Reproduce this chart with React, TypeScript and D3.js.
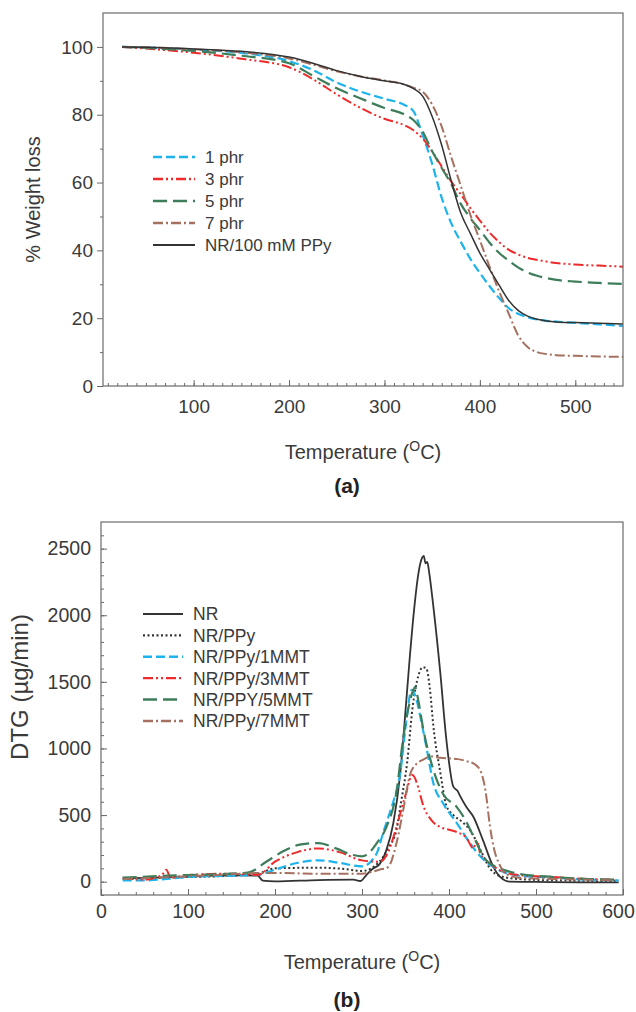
import { useEffect, useRef } from "react";
import * as d3 from "d3";

// ---------- (a) TGA data: % weight vs temperature ----------
const TGA_TEMPS = [25, 50, 100, 150, 200, 225, 250, 275, 300, 320, 330, 340, 350, 360, 370, 380, 390, 400, 410, 420, 430, 440, 450, 460, 470, 480, 500, 525, 550];
const TGA_1PHR = [100, 99.8, 99.2, 98.2, 95.8, 93.2, 89.5, 86.8, 84.7, 83, 81.2, 74, 65.5, 55.5, 48, 42.5, 37.5, 33.3, 29.5, 26, 23, 21.3, 20.3, 19.6, 19.2, 19, 18.6, 18.2, 17.7];
const TGA_3PHR = [100, 99.5, 98.3, 96.5, 94, 90.5, 86, 82, 78.8, 77, 75.5, 73, 69.2, 64.7, 60.3, 56.5, 52.5, 48.8, 45.3, 42.5, 40.2, 38.8, 37.8, 37.2, 36.7, 36.3, 35.8, 35.5, 35.2];
const TGA_5PHR = [100, 99.7, 98.8, 97.4, 95.2, 91.5, 87.8, 84.8, 82, 80.2, 78.5, 75, 69.2, 64.3, 59.5, 53.7, 49.5, 46, 42.3, 39.3, 37, 35, 33.5, 32.5, 31.8, 31.3, 30.8, 30.4, 30.1];
const TGA_7PHR = [100, 99.9, 99.3, 98.4, 96.6, 94.8, 92.8, 91.3, 90.1, 89, 88, 86.8, 83, 76.5, 67.5, 59, 50.5, 43, 35.3, 28, 21.5, 15, 11.5, 10, 9.4, 9.1, 8.9, 8.7, 8.6];
const TGA_NR_PPY = [100, 99.9, 99.4, 98.7, 97, 95.2, 93, 91.3, 90, 89, 87.8, 85.5, 79.5, 71, 60.5, 51, 45, 39.2, 34.5, 29.8, 25.3, 22.3, 20.6, 19.7, 19.2, 18.9, 18.7, 18.5, 18.3];

const TGA_X_TICKS = [100, 200, 300, 400, 500];
const TGA_Y_TICKS = [0, 20, 40, 60, 80, 100];

// ---------- (b) DTG data: [temperature, µg/min] ----------
const DTG_NR = [[25, 25], [50, 28], [75, 32], [100, 38], [130, 45], [160, 48], [180, 45], [186, 8], [200, 2], [250, 12], [290, 15], [298, 5], [305, 50], [312, 95], [320, 130], [328, 237], [336, 440], [344, 815], [351, 1365], [355, 1690], [360, 2050], [365, 2320], [369, 2430], [371, 2445], [373, 2390], [375, 2400], [377, 2330], [382, 2066], [390, 1567], [397, 1064], [405, 713], [410, 680], [413, 640], [420, 560], [428, 487], [439, 312], [451, 111], [459, 34], [470, 0], [500, -2], [550, -5], [595, -5]];
const DTG_NR_PPY = [[25, 20], [100, 35], [150, 45], [180, 60], [200, 100], [250, 105], [280, 95], [300, 80], [320, 150], [330, 250], [340, 400], [345, 600], [352, 900], [358, 1300], [365, 1550], [370, 1610], [374, 1600], [378, 1450], [382, 1170], [390, 820], [397, 570], [405, 500], [415, 450], [425, 380], [436, 240], [447, 100], [460, 40], [480, 20], [520, 10], [595, 5]];
const DTG_1MMT = [[25, 10], [50, 10], [100, 35], [150, 45], [180, 50], [200, 90], [225, 140], [250, 160], [275, 140], [300, 115], [310, 150], [318, 230], [324, 360], [330, 480], [336, 600], [344, 820], [351, 1210], [357, 1440], [362, 1380], [367, 1240], [374, 1010], [382, 740], [393, 590], [409, 440], [424, 290], [436, 190], [451, 110], [460, 80], [480, 45], [520, 30], [560, 15], [595, 10]];
const DTG_3MMT = [[25, 30], [50, 15], [70, 50], [75, 90], [80, 30], [100, 50], [150, 60], [180, 50], [200, 150], [225, 220], [250, 250], [275, 220], [300, 160], [320, 150], [330, 220], [340, 420], [350, 650], [358, 800], [365, 700], [370, 580], [380, 460], [390, 410], [400, 390], [410, 370], [420, 330], [428, 250], [432, 310], [436, 210], [445, 150], [460, 80], [480, 50], [520, 35], [560, 20], [590, 15]];
const DTG_5MMT = [[25, 30], [100, 50], [150, 60], [170, 70], [190, 150], [210, 230], [230, 280], [250, 290], [270, 250], [290, 200], [300, 190], [305, 200], [317, 290], [328, 410], [340, 690], [347, 1060], [355, 1350], [361, 1460], [365, 1350], [370, 1160], [382, 840], [393, 660], [409, 560], [420, 450], [428, 340], [443, 160], [459, 100], [480, 60], [520, 35], [560, 20], [590, 15]];
const DTG_7MMT = [[25, 20], [100, 40], [150, 55], [180, 65], [200, 65], [250, 60], [300, 60], [320, 90], [330, 110], [340, 300], [348, 560], [355, 800], [362, 880], [370, 915], [380, 940], [390, 930], [400, 925], [410, 920], [420, 905], [430, 880], [437, 820], [442, 680], [447, 420], [452, 240], [458, 130], [465, 60], [480, 30], [520, 20], [560, 15], [590, 10]];

const DTG_X_TICKS = [0, 100, 200, 300, 400, 500, 600];
const DTG_Y_TICKS = [0, 500, 1000, 1500, 2000, 2500];

const CYAN = "#1db3ec";
const RED = "#ee2a2a";
const GREEN = "#3e7d5a";
const BROWN = "#a6705f";
const BLACK = "#333333";
const FRAME = "#6a6a6a";
const TEXT = "#3a3a3a";
const FONT = "'Liberation Sans', Arial, Helvetica, sans-serif";

const TGA_SERIES = [
  { name: "1 phr", values: TGA_1PHR, color: CYAN, dash: "9,4", width: 2.2 },
  { name: "3 phr", values: TGA_3PHR, color: RED, dash: "10,3,2,3,2,3", width: 2 },
  { name: "5 phr", values: TGA_5PHR, color: GREEN, dash: "14,6", width: 2.2 },
  { name: "7 phr", values: TGA_7PHR, color: BROWN, dash: "10,3,2,3", width: 2 },
  { name: "NR/100 mM PPy", values: TGA_NR_PPY, color: BLACK, dash: null, width: 1.5 },
];

const DTG_SERIES = [
  { name: "NR", values: DTG_NR, color: BLACK, dash: null, width: 1.8 },
  { name: "NR/PPy", values: DTG_NR_PPY, color: BLACK, dash: "2,2.5", width: 2 },
  { name: "NR/PPy/1MMT", values: DTG_1MMT, color: CYAN, dash: "9,4", width: 2.2 },
  { name: "NR/PPy/3MMT", values: DTG_3MMT, color: RED, dash: "10,3,2,3,2,3", width: 2 },
  { name: "NR/PPY/5MMT", values: DTG_5MMT, color: GREEN, dash: "14,6", width: 2.2 },
  { name: "NR/PPy/7MMT", values: DTG_7MMT, color: BROWN, dash: "10,3,2,3", width: 2 },
];

function styleAxis(ax, fontSize) {
  ax.select(".domain").remove();
  ax.selectAll("line").attr("stroke", FRAME).attr("stroke-width", 1);
  ax.selectAll("text")
    .attr("fill", TEXT)
    .style("font-size", fontSize + "px")
    .style("font-family", FONT);
}

function tempTitle(svg, x, y) {
  const t = svg.append("text")
    .attr("x", x).attr("y", y)
    .attr("text-anchor", "middle")
    .attr("fill", TEXT)
    .style("font-size", "20px")
    .style("font-family", FONT);
  t.append("tspan").text("Temperature (");
  t.append("tspan").attr("dy", -8).style("font-size", "14px").text("O");
  t.append("tspan").attr("dy", 8).text("C)");
}

function buildChart(svgEl) {
  const svg = d3.select(svgEl);
  svg.selectAll("*").remove();

  // ---------------- panel (a) ----------------
  const a = { left: 103, right: 623, top: 13, bottom: 386 };
  const xA = d3.scaleLinear().domain([5, 550]).range([a.left, a.right]);
  const yA = d3.scaleLinear().domain([0, 110]).range([a.bottom, a.top]);

  // minor + major ticks, x inward
  svg.append("g")
    .attr("transform", `translate(0,${a.bottom})`)
    .call(d3.axisBottom(xA).tickValues(d3.range(10, 550, 10)).tickSize(-3).tickFormat(""))
    .call(ax => styleAxis(ax, 19));
  svg.append("g")
    .attr("transform", `translate(0,${a.bottom})`)
    .call(d3.axisBottom(xA).tickValues(TGA_X_TICKS).tickSize(-6).tickPadding(14).tickFormat(d3.format("d")))
    .call(ax => styleAxis(ax, 19));

  // y outward
  svg.append("g")
    .attr("transform", `translate(${a.left},0)`)
    .call(d3.axisLeft(yA).tickValues(d3.range(10, 110, 20)).tickSize(3).tickFormat(""))
    .call(ax => styleAxis(ax, 19));
  svg.append("g")
    .attr("transform", `translate(${a.left},0)`)
    .call(d3.axisLeft(yA).tickValues(TGA_Y_TICKS).tickSize(6).tickPadding(4).tickFormat(d3.format("d")))
    .call(ax => styleAxis(ax, 19));

  const lineA = d3.line()
    .x((d, i) => xA(TGA_TEMPS[i]))
    .y(d => yA(d))
    .curve(d3.curveMonotoneX);

  TGA_SERIES.forEach(s => {
    svg.append("path")
      .datum(s.values)
      .attr("fill", "none")
      .attr("stroke", s.color)
      .attr("stroke-width", s.width)
      .attr("stroke-dasharray", s.dash)
      .attr("d", lineA);
  });

  svg.append("rect")
    .attr("x", a.left).attr("y", a.top)
    .attr("width", a.right - a.left).attr("height", a.bottom - a.top)
    .attr("fill", "none").attr("stroke", FRAME).attr("stroke-width", 1.2);

  // legend (a)
  const legA = svg.append("g").attr("transform", "translate(153,157)");
  TGA_SERIES.forEach((s, i) => {
    const gy = i * 22;
    legA.append("line")
      .attr("x1", 0).attr("x2", 42).attr("y1", gy).attr("y2", gy)
      .attr("stroke", s.color).attr("stroke-width", s.width + 0.3)
      .attr("stroke-dasharray", s.dash);
    legA.append("text")
      .attr("x", 52).attr("y", gy).attr("dy", "0.36em")
      .attr("fill", TEXT)
      .style("font-size", "17px").style("font-family", FONT)
      .text(s.name);
  });

  svg.append("text")
    .attr("transform", `translate(40,${(a.top + a.bottom) / 2}) rotate(-90)`)
    .attr("text-anchor", "middle")
    .attr("fill", TEXT)
    .style("font-size", "20px").style("font-family", FONT)
    .text("% Weight loss");

  tempTitle(svg, (a.left + a.right) / 2, 459);

  svg.append("text")
    .attr("x", 347).attr("y", 493)
    .attr("text-anchor", "middle")
    .attr("fill", "#222")
    .style("font-size", "21px").style("font-weight", "bold").style("font-family", FONT)
    .text("(a)");

  // ---------------- panel (b) ----------------
  const b = { left: 101, right: 623, top: 522, bottom: 895 };
  const xB = d3.scaleLinear().domain([0, 600]).range([b.left, b.right]);
  const yB = d3.scaleLinear().domain([-100, 2700]).range([b.bottom, b.top]);

  svg.append("g")
    .attr("transform", `translate(0,${b.bottom})`)
    .call(d3.axisBottom(xB).tickValues(d3.range(20, 600, 20)).tickSize(-3).tickFormat(""))
    .call(ax => styleAxis(ax, 19));
  svg.append("g")
    .attr("transform", `translate(0,${b.bottom})`)
    .call(d3.axisBottom(xB).tickValues(DTG_X_TICKS).tickSize(-6).tickPadding(9).tickFormat(d3.format("d")))
    .call(ax => {
      styleAxis(ax, 19.5);
      // last label sits on the page edge; nudge it in so it stays readable
      ax.selectAll("text").filter(d => d === 600).attr("dx", -5);
    });

  svg.append("g")
    .attr("transform", `translate(${b.left},0)`)
    .call(d3.axisLeft(yB).tickValues(d3.range(-100, 2700, 100)).tickSize(-3).tickFormat(""))
    .call(ax => styleAxis(ax, 19));
  svg.append("g")
    .attr("transform", `translate(${b.left},0)`)
    .call(d3.axisLeft(yB).tickValues(DTG_Y_TICKS).tickSize(-6).tickPadding(10).tickFormat(d3.format("d")))
    .call(ax => styleAxis(ax, 19.5));

  const lineB = d3.line()
    .x(d => xB(d[0]))
    .y(d => yB(d[1]))
    .curve(d3.curveMonotoneX);

  DTG_SERIES.forEach(s => {
    svg.append("path")
      .datum(s.values)
      .attr("fill", "none")
      .attr("stroke", s.color)
      .attr("stroke-width", s.width)
      .attr("stroke-dasharray", s.dash)
      .attr("stroke-linejoin", "round")
      .attr("d", lineB);
  });

  svg.append("rect")
    .attr("x", b.left).attr("y", b.top)
    .attr("width", b.right - b.left).attr("height", b.bottom - b.top)
    .attr("fill", "none").attr("stroke", FRAME).attr("stroke-width", 1.2);

  // legend (b)
  const legB = svg.append("g").attr("transform", "translate(143,614)");
  DTG_SERIES.forEach((s, i) => {
    const gy = i * 21.4;
    legB.append("line")
      .attr("x1", 0).attr("x2", 40).attr("y1", gy).attr("y2", gy)
      .attr("stroke", s.color).attr("stroke-width", s.width + 0.3)
      .attr("stroke-dasharray", s.dash);
    legB.append("text")
      .attr("x", 50).attr("y", gy).attr("dy", "0.36em")
      .attr("fill", TEXT)
      .style("font-size", "17.5px").style("font-family", FONT)
      .text(s.name);
  });

  svg.append("text")
    .attr("transform", `translate(28,687) rotate(-90)`)
    .attr("text-anchor", "middle")
    .attr("fill", TEXT)
    .style("font-size", "24px").style("font-family", FONT)
    .text("DTG (µg/min)");

  tempTitle(svg, (b.left + b.right) / 2, 969);

  svg.append("text")
    .attr("x", 347).attr("y", 1007)
    .attr("text-anchor", "middle")
    .attr("fill", "#222")
    .style("font-size", "21px").style("font-weight", "bold").style("font-family", FONT)
    .text("(b)");
}

export default function App() {
  const svgRef = useRef(null);

  useEffect(() => {
    if (svgRef.current) buildChart(svgRef.current);
  }, []);

  return (
    <svg
      ref={svgRef}
      width={636}
      height={1012}
      style={{ position: "absolute", left: 0, top: 0, background: "#fff", display: "block" }}
    />
  );
}
